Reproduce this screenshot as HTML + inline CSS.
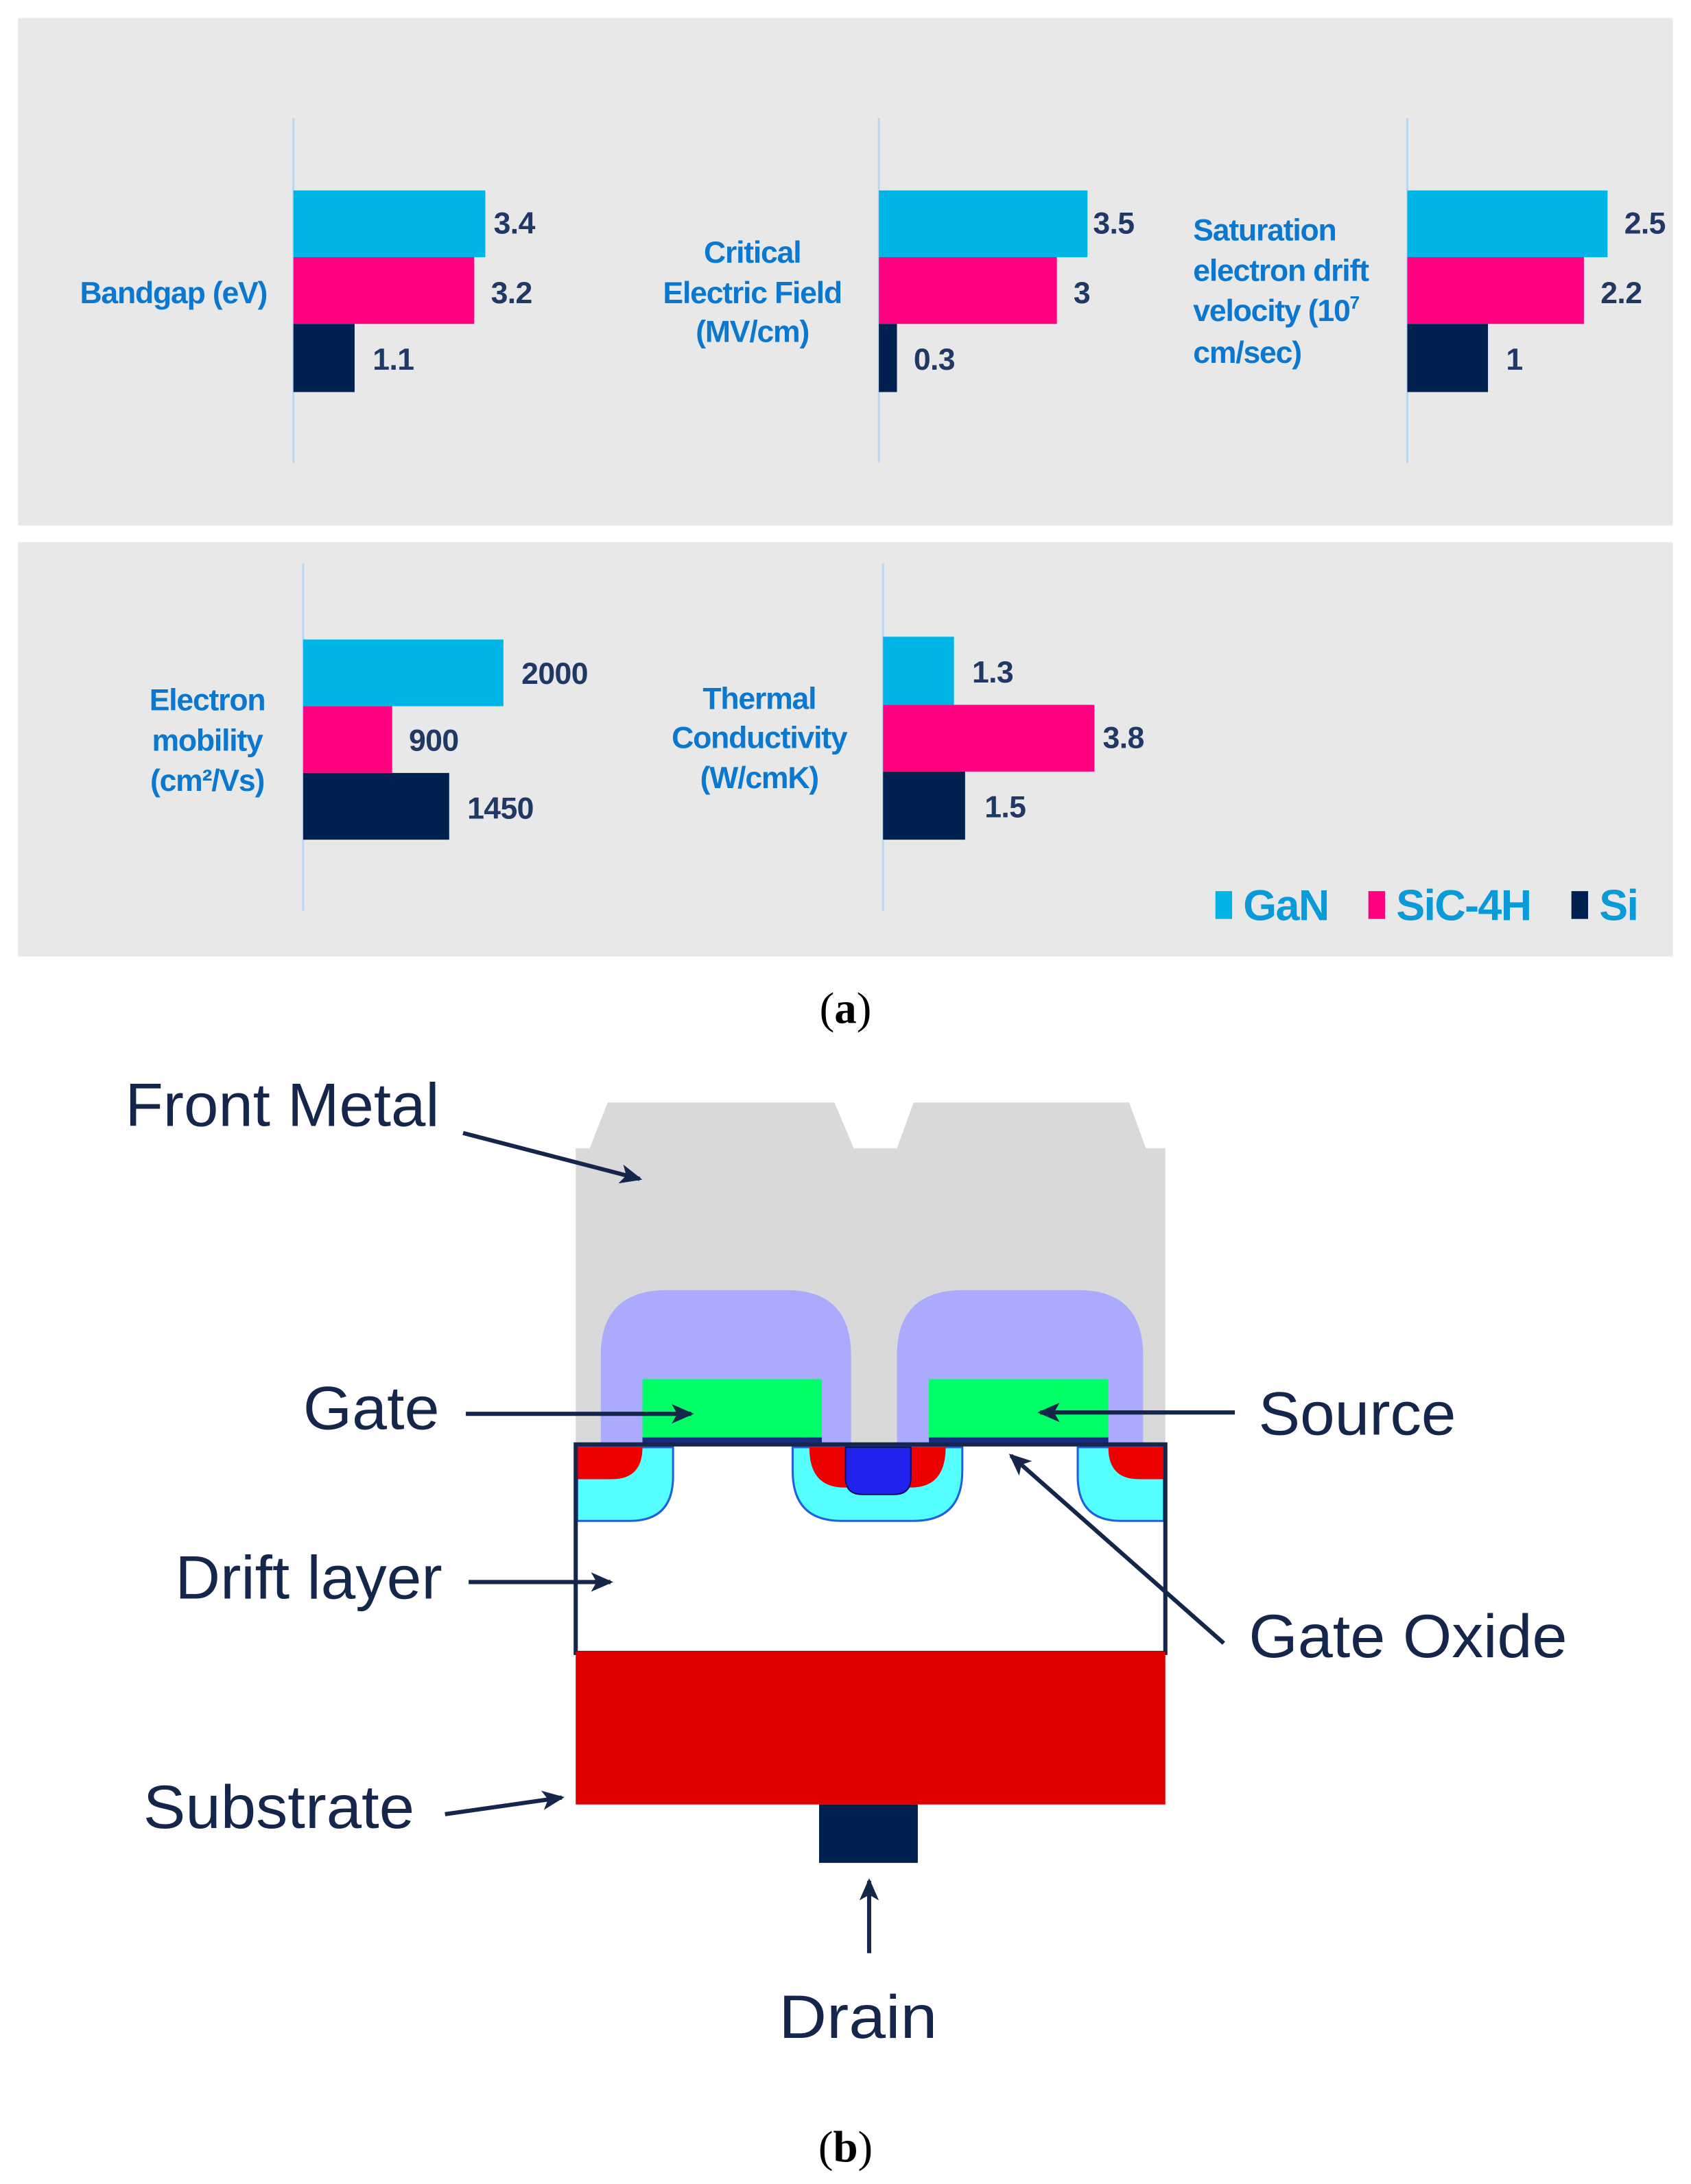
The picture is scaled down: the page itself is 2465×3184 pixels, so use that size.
<!DOCTYPE html>
<html><head><meta charset="utf-8"><style>
html,body{margin:0;padding:0;background:#fff;}
svg{display:block;}
.lb{font-family:"Liberation Sans",sans-serif;font-size:22px;font-weight:bold;fill:#0a78d0;letter-spacing:-0.6px;}
.v{font-family:"Liberation Sans",sans-serif;font-size:22px;font-weight:bold;fill:#1f3864;letter-spacing:-0.3px;}
.t{font-family:"Liberation Sans",sans-serif;font-size:44px;fill:#14264a;}
.cap{font-family:"Liberation Serif",serif;font-size:32px;fill:#000;}
.lg{font-family:"Liberation Sans",sans-serif;font-size:31px;font-weight:bold;fill:#0a9ad8;letter-spacing:-0.8px;}
</style></head><body>
<svg width="2465" height="3184" viewBox="0 0 1216 1571" preserveAspectRatio="none" xmlns="http://www.w3.org/2000/svg">
<defs><marker id="ah" markerWidth="16" markerHeight="14" refX="14" refY="7" orient="auto" markerUnits="userSpaceOnUse"><path d="M0,0 L16,7 L0,14 L4,7 z" fill="#14264a"/></marker></defs>
<rect x="13" y="13" width="1190" height="365" fill="#e8e8e8"/>
<rect x="13" y="390" width="1190" height="298" fill="#e8e8e8"/>
<g stroke="#bcd6ee" stroke-width="1.5">
<line x1="211" y1="85" x2="211" y2="333"/><line x1="632" y1="85" x2="632" y2="333"/><line x1="1012" y1="85" x2="1012" y2="333"/>
<line x1="218" y1="405" x2="218" y2="655"/><line x1="635" y1="405" x2="635" y2="655"/></g>
<rect x="211" y="137" width="138" height="48" fill="#00b4e6"/><rect x="211" y="185" width="130" height="48" fill="#ff0080"/><rect x="211" y="233" width="44" height="49" fill="#002050"/>
<text class="v" x="355" y="168">3.4</text><text class="v" x="353" y="218">3.2</text><text class="v" x="268" y="266">1.1</text>
<text class="lb" x="192" y="218" text-anchor="end">Bandgap (eV)</text>
<rect x="632" y="137" width="150" height="48" fill="#00b4e6"/><rect x="632" y="185" width="128" height="48" fill="#ff0080"/><rect x="632" y="233" width="13" height="49" fill="#002050"/>
<text class="v" x="786" y="168">3.5</text><text class="v" x="772" y="218">3</text><text class="v" x="657" y="266">0.3</text>
<text class="lb" x="541" y="189" text-anchor="middle">Critical</text><text class="lb" x="541" y="218" text-anchor="middle">Electric Field</text><text class="lb" x="541" y="246" text-anchor="middle">(MV/cm)</text>
<rect x="1012" y="137" width="144" height="48" fill="#00b4e6"/><rect x="1012" y="185" width="127" height="48" fill="#ff0080"/><rect x="1012" y="233" width="58" height="49" fill="#002050"/>
<text class="v" x="1168" y="168">2.5</text><text class="v" x="1151" y="218">2.2</text><text class="v" x="1083" y="266">1</text>
<text class="lb" x="858" y="173">Saturation</text><text class="lb" x="858" y="202">electron drift</text><text class="lb" x="858" y="231">velocity (10<tspan font-size="13" dy="-9">7</tspan></text><text class="lb" x="858" y="261">cm/sec)</text>
<rect x="218" y="460" width="144" height="48" fill="#00b4e6"/><rect x="218" y="508" width="64" height="48" fill="#ff0080"/><rect x="218" y="556" width="105" height="48" fill="#002050"/>
<text class="v" x="375" y="492">2000</text><text class="v" x="294" y="540">900</text><text class="v" x="336" y="589">1450</text>
<text class="lb" x="149" y="511" text-anchor="middle">Electron</text><text class="lb" x="149" y="540" text-anchor="middle">mobility</text><text class="lb" x="149" y="569" text-anchor="middle">(cm²/Vs)</text>
<rect x="635" y="458" width="51" height="49" fill="#00b4e6"/><rect x="635" y="507" width="152" height="48" fill="#ff0080"/><rect x="635" y="555" width="59" height="49" fill="#002050"/>
<text class="v" x="699" y="491">1.3</text><text class="v" x="793" y="538">3.8</text><text class="v" x="708" y="588">1.5</text>
<text class="lb" x="546" y="510" text-anchor="middle">Thermal</text><text class="lb" x="546" y="538" text-anchor="middle">Conductivity</text><text class="lb" x="546" y="567" text-anchor="middle">(W/cmK)</text>
<rect x="874" y="641" width="12" height="20" fill="#00b4e6"/><text class="lg" x="894" y="662">GaN</text>
<rect x="984" y="641" width="12" height="20" fill="#ff0080"/><text class="lg" x="1004" y="662">SiC-4H</text>
<rect x="1130" y="641" width="12" height="20" fill="#002050"/><text class="lg" x="1150" y="662">Si</text>
<text class="cap" x="608" y="736" text-anchor="middle">(<tspan font-weight="bold">a</tspan>)</text>
<path d="M414,826 L424,826 L437,793 L600,793 L614,826 L645,826 L657,793 L812,793 L824,826 L838,826 L838,1040 L414,1040 Z" fill="#d9d9d9"/>
<path d="M432,1040 L432,975 Q432,928 480,928 L565,928 Q612,928 612,975 L612,1040 Z" fill="#aaaaff"/>
<path d="M645,1040 L645,975 Q645,928 693,928 L775,928 Q822,928 822,975 L822,1040 Z" fill="#aaaaff"/>
<rect x="462" y="992" width="129" height="43" fill="#00ff66"/><rect x="668" y="992" width="129" height="43" fill="#00ff66"/>
<rect x="462" y="1034" width="129" height="5" fill="#1a2a80"/><rect x="668" y="1034" width="129" height="5" fill="#1a2a80"/>
<rect x="414" y="1040" width="424" height="150" fill="#fff"/>
<path d="M415,1041 L484,1041 L484,1062 Q484,1094 453,1094 L415,1094 Z" fill="#55ffff" stroke="#2060e0" stroke-width="1.5"/>
<path d="M415,1041 L462,1041 Q462,1064 440,1064 L415,1064 Z" fill="#ee0000"/>
<path d="M570,1041 L692,1041 L692,1058 Q692,1094 657,1094 L605,1094 Q570,1094 570,1058 Z" fill="#55ffff" stroke="#2060e0" stroke-width="1.5"/>
<path d="M582,1041 L680,1041 Q680,1070 655,1070 L607,1070 Q582,1070 582,1041 Z" fill="#ee0000"/>
<path d="M608,1041 L655,1041 L655,1063 Q655,1075 643,1075 L620,1075 Q608,1075 608,1063 Z" fill="#2222ee" stroke="#101060" stroke-width="1"/>
<path d="M837,1041 L775,1041 L775,1062 Q775,1094 806,1094 L837,1094 Z" fill="#55ffff" stroke="#2060e0" stroke-width="1.5"/>
<path d="M837,1041 L797,1041 Q797,1064 819,1064 L837,1064 Z" fill="#ee0000"/>
<rect x="414" y="1039" width="424" height="150" fill="none" stroke="#14264a" stroke-width="3"/>
<rect x="414" y="1188" width="424" height="110" fill="#e00000"/>
<rect x="589" y="1298" width="71" height="42" fill="#002050"/>
<g stroke="#14264a" stroke-width="3" fill="none" marker-end="url(#ah)">
<line x1="333" y1="815" x2="460" y2="848"/>
<line x1="335" y1="1017" x2="497" y2="1017"/>
<line x1="888" y1="1016" x2="748" y2="1016"/>
<line x1="337" y1="1138" x2="439" y2="1138"/>
<line x1="880" y1="1182" x2="727" y2="1047"/>
<line x1="320" y1="1305" x2="404" y2="1293"/>
<line x1="625" y1="1405" x2="625" y2="1353"/>
</g>
<text class="t" x="90" y="810" textLength="226" lengthAdjust="spacingAndGlyphs">Front Metal</text>
<text class="t" x="218" y="1028" textLength="98" lengthAdjust="spacingAndGlyphs">Gate</text>
<text class="t" x="905" y="1032" textLength="142" lengthAdjust="spacingAndGlyphs">Source</text>
<text class="t" x="126" y="1150" textLength="192" lengthAdjust="spacingAndGlyphs">Drift layer</text>
<text class="t" x="898" y="1192" textLength="229" lengthAdjust="spacingAndGlyphs">Gate Oxide</text>
<text class="t" x="103" y="1315" textLength="195" lengthAdjust="spacingAndGlyphs">Substrate</text>
<text class="t" x="560" y="1466" textLength="114" lengthAdjust="spacingAndGlyphs">Drain</text>
<text class="cap" x="608" y="1555" text-anchor="middle">(<tspan font-weight="bold">b</tspan>)</text>
</svg>
</body></html>
